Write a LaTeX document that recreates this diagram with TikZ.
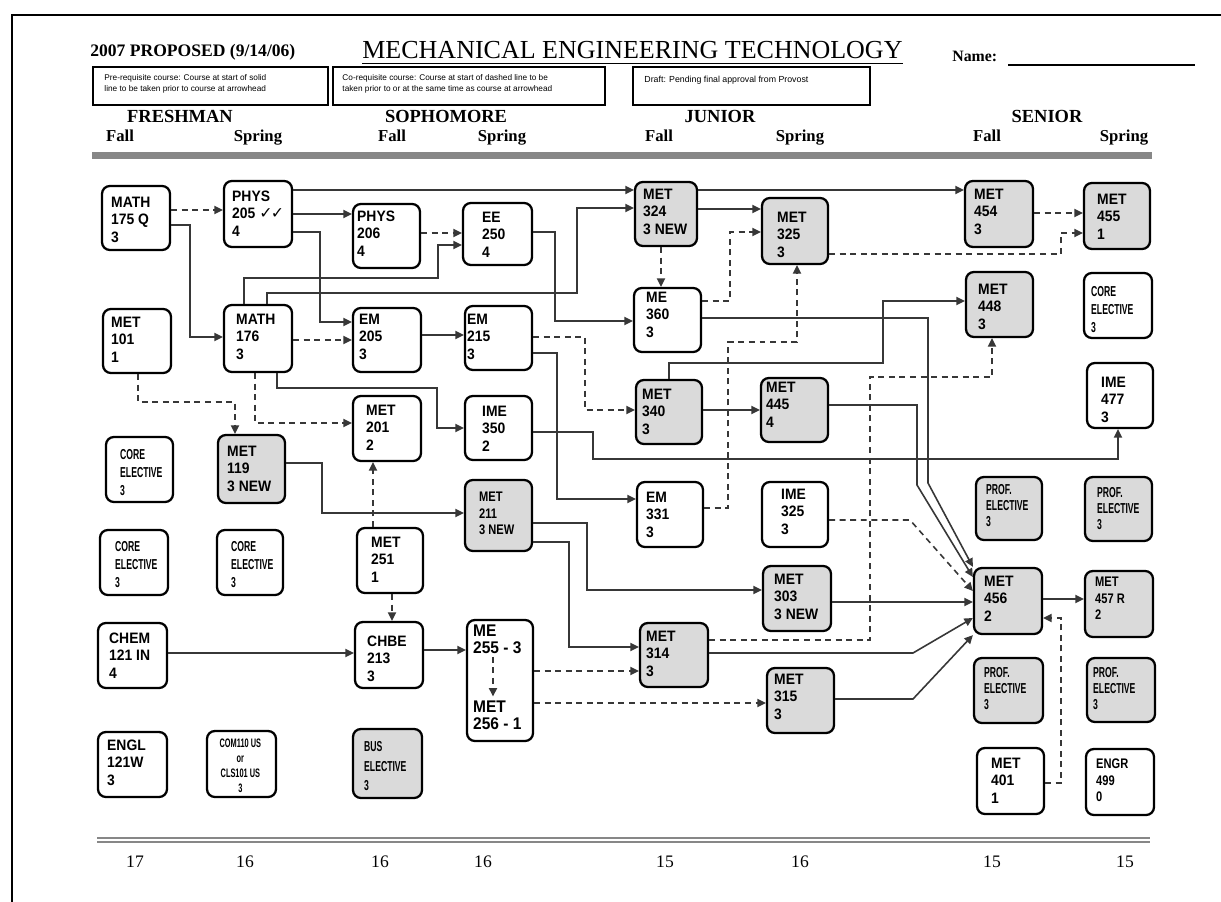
\documentclass[tikz,border=0pt]{standalone}
\usepackage{fontspec}
\setmainfont{Liberation Serif}
\newfontfamily\boxfont[FakeStretch=0.92]{Liberation Sans}
\newfontfamily\narrowfont[FakeStretch=0.6]{Liberation Sans}
\newfontfamily\midfont[FakeStretch=0.8]{Liberation Sans}
\newfontfamily\symfont{DejaVu Sans}
\newfontfamily\legfont{Liberation Sans}
\usetikzlibrary{arrows.meta,fit,calc}
\definecolor{boxgray}{RGB}{218,218,218}
\definecolor{linec}{RGB}{55,55,55}
\definecolor{bargray}{RGB}{135,135,135}
\newcommand\crs[7]{%
  \node[#4, fit={(#2) (#3)}] (#1) {};
  \node[#5] (#1t) at ([shift={(#6)}]#1.north west) {#7};
}
\begin{document}
\begin{tikzpicture}[x=0.02cm,y=-0.02cm,
  wbox/.style={draw=black, line width=1.3pt, rounded corners=4.5pt, inner sep=0pt, fill=white},
  gbox/.style={wbox, fill=boxgray},
  txt/.style={anchor=north west, inner sep=0pt, align=left, font=\boxfont\bfseries\fontsize{8.6}{9.8}\selectfont},
  ntxt/.style={anchor=north west, inner sep=0pt, align=left, font=\narrowfont\bfseries\fontsize{8.2}{10.2}\selectfont},
  ptxt/.style={anchor=north west, inner sep=0pt, align=left, font=\narrowfont\bfseries\fontsize{8.2}{9.1}\selectfont},
  btxt/.style={anchor=north west, inner sep=0pt, align=left, font=\narrowfont\bfseries\fontsize{8.2}{11.3}\selectfont},
  mtxt/.style={anchor=north west, inner sep=0pt, align=left, font=\midfont\bfseries\fontsize{7.9}{9.3}\selectfont},
  ctxt/.style={anchor=north, inner sep=0pt, align=center, font=\narrowfont\bfseries\fontsize{7}{8.5}\selectfont},
  pre/.style={draw=linec, line width=0.9pt, -{Triangle[length=4.8pt,width=4.6pt]}},
  co/.style={pre, dash pattern=on 3.4pt off 2.6pt},
  leg/.style={draw=black, line width=1pt, inner sep=0pt},
  legtxt/.style={anchor=north west, inner sep=0pt, align=left, font=\legfont\fontsize{4.7}{6.2}\selectfont},
  yr/.style={anchor=base, inner sep=0pt, font=\bfseries\fontsize{10.5}{12}\selectfont},
  sem/.style={anchor=base, inner sep=0pt, font=\bfseries\fontsize{9.5}{11}\selectfont},
  num/.style={anchor=base, inner sep=0pt, font=\fontsize{10}{12}\selectfont}
]
\useasboundingbox (0,0) rectangle (1221,902);
\fill[white] (0,0) rectangle (1221,902);
\draw[line width=0.6pt] (12,902) -- (12,15) -- (1221,15);

% header
\node[anchor=base west, inner sep=0pt, font=\bfseries\fontsize{10}{12}\selectfont] (prop) at (90,57) {2007 PROPOSED (9/14/06)};
\node[anchor=base west, inner sep=0pt, font=\fontsize{14.8}{16}\selectfont] (title) at (362,59) {MECHANICAL ENGINEERING TECHNOLOGY};
\draw[line width=0.8pt] ([yshift=-2.4pt]title.base west) -- ([yshift=-2.4pt]title.base east);
\node[anchor=base west, inner sep=0pt, font=\bfseries\fontsize{9}{11}\selectfont] (name) at (952,62) {Name:};
\draw[line width=0.8pt] (1008,65) -- (1195,65);

\node[leg, fit={(93,67) (328,105)}] (leg1) {};
\node[legtxt] (leg1t) at ([shift={(12,8)}]leg1.north west) {Pre-requisite course: Course at start of solid\\line to be taken prior to course at arrowhead};
\node[leg, fit={(333,67) (605,105)}] (leg2) {};
\node[legtxt] (leg2t) at ([shift={(10,8)}]leg2.north west) {Co-requisite course: Course at start of dashed line to be\\taken prior to or at the same time as course at arrowhead};
\node[leg, fit={(633,67) (870,105)}] (leg3) {};
\node[legtxt, font=\legfont\fontsize{5}{6}\selectfont] (leg3t) at ([shift={(12,10)}]leg3.north west) {Draft: Pending final approval from Provost};

\node[yr] (fr) at (180,123) {FRESHMAN};
\node[yr] (so) at (446,123) {SOPHOMORE};
\node[yr] (jr) at (720,123) {JUNIOR};
\node[yr] (sr) at (1047,123) {SENIOR};
\node[sem] (s1) at (120,142) {Fall};
\node[sem] (s2) at (258,142) {Spring};
\node[sem] (s3) at (392,142) {Fall};
\node[sem] (s4) at (502,142) {Spring};
\node[sem] (s5) at (659,142) {Fall};
\node[sem] (s6) at (800,142) {Spring};
\node[sem] (s7) at (987,142) {Fall};
\node[sem] (s8) at (1124,142) {Spring};
\fill[bargray] (92,152) rectangle (1152,159);

% courses
\crs{m175}{102,186}{170,250}{wbox}{txt}{10,12}{MATH\\175 Q\\3}
\crs{p205}{224,181}{292,247}{wbox}{txt}{9,11}{PHYS\\205 {\symfont\bfseries\fontsize{9}{9}\selectfont ✓\kern-1pt✓}\\4}
\crs{p206}{353,204}{420,268}{wbox}{txt}{5,8}{PHYS\\206\\4}
\crs{ee250}{463,203}{532,265}{wbox}{txt}{20,10}{EE\\250\\4}
\crs{m324}{635,182}{697,246}{gbox}{txt}{9,8}{MET\\324\\3 NEW}
\crs{m325}{762,198}{828,264}{gbox}{txt}{16,15}{MET\\325\\3}
\crs{m454}{965,181}{1033,247}{gbox}{txt}{10,9}{MET\\454\\3}
\crs{m455}{1084,183}{1150,249}{gbox}{txt}{14,12}{MET\\455\\1}
\crs{m101}{103,309}{171,373}{wbox}{txt}{9,9}{MET\\101\\1}
\crs{m176}{224,305}{292,372}{wbox}{txt}{13,10}{MATH\\176\\3}
\crs{em205}{353,308}{421,372}{wbox}{txt}{7,7}{EM\\205\\3}
\crs{em215}{465,306}{532,370}{wbox}{txt}{3,9}{EM\\215\\3}
\crs{me360}{634,288}{701,352}{wbox}{txt}{13,5}{ME\\360\\3}
\crs{m448}{966,272}{1033,337}{gbox}{txt}{13,13}{MET\\448\\3}
\crs{ce4}{1084,273}{1152,338}{wbox}{ntxt}{8,14}{CORE\\ELECTIVE\\3}
\crs{m201}{353,396}{421,461}{wbox}{txt}{14,10}{MET\\201\\2}
\crs{ime350}{465,396}{532,460}{wbox}{txt}{18,11}{IME\\350\\2}
\crs{m340}{636,380}{702,444}{gbox}{txt}{7,10}{MET\\340\\3}
\crs{m445}{761,378}{828,442}{gbox}{txt}{6,5}{MET\\445\\4}
\crs{ime477}{1087,363}{1153,428}{wbox}{txt}{15,15}{IME\\477\\3}
\crs{ce1}{106,437}{173,502}{wbox}{ntxt}{15,13}{CORE\\ELECTIVE\\3}
\crs{m119}{218,435}{285,503}{gbox}{txt}{10,12}{MET\\119\\3 NEW}
\crs{m211}{465,480}{532,551}{gbox}{mtxt}{15,13}{MET\\211\\3 NEW}
\crs{em331}{637,482}{703,547}{wbox}{txt}{10,11}{EM\\331\\3}
\crs{ime325}{762,482}{828,547}{wbox}{txt}{20,8}{IME\\325\\3}
\crs{pe1}{976,477}{1042,540}{gbox}{ptxt}{11,8}{PROF.\\ELECTIVE\\3}
\crs{pe2}{1085,477}{1152,541}{gbox}{ptxt}{13,11}{PROF.\\ELECTIVE\\3}
\crs{ce2}{100,530}{168,595}{wbox}{ntxt}{16,12}{CORE\\ELECTIVE\\3}
\crs{ce3}{217,530}{283,595}{wbox}{ntxt}{15,12}{CORE\\ELECTIVE\\3}
\crs{m251}{357,528}{423,593}{wbox}{txt}{15,10}{MET\\251\\1}
\crs{m303}{763,566}{831,631}{gbox}{txt}{12,9}{MET\\303\\3 NEW}
\crs{m456}{974,568}{1042,634}{gbox}{txt}{11,9}{MET\\456\\2}
\crs{m457}{1085,571}{1153,637}{gbox}{mtxt}{11,7}{MET\\457 R\\2}
\crs{chem}{98,623}{167,688}{wbox}{txt}{12,11}{CHEM\\121 IN\\4}
\crs{chbe}{355,622}{423,688}{wbox}{txt}{13,15}{CHBE\\213\\3}
\node[wbox, fit={(467,620) (533,741)}] (me255) {};
\node[txt, font=\boxfont\bfseries\fontsize{9.6}{9.6}\selectfont] (me255t) at ([shift={(7,6)}]me255.north west) {ME\\255 - 3};
\node[txt, font=\boxfont\bfseries\fontsize{9.6}{9.6}\selectfont] (met256t) at ([shift={(7,82)}]me255.north west) {MET\\256 - 1};
\crs{m314}{640,623}{708,687}{gbox}{txt}{7,9}{MET\\314\\3}
\crs{m315}{767,668}{834,733}{gbox}{txt}{8,7}{MET\\315\\3}
\crs{pe3}{974,658}{1043,723}{gbox}{ptxt}{11,10}{PROF.\\ELECTIVE\\3}
\crs{pe4}{1087,658}{1155,722}{gbox}{ptxt}{7,10}{PROF.\\ELECTIVE\\3}
\crs{engl}{98,732}{167,797}{wbox}{txt}{10,9}{ENGL\\121W\\3}
\node[wbox, fit={(207,731) (276,797)}] (com) {};
\node[ctxt] (comt) at ([shift={(34.5,9)}]com.north west) {COM110 US\\or\\CLS101 US\\3};
\crs{bus}{353,729}{422,798}{gbox}{btxt}{12,13}{BUS\\ELECTIVE\\3}
\crs{m401}{977,748}{1044,814}{wbox}{txt}{15,11}{MET\\401\\1}
\crs{engr}{1086,749}{1154,815}{wbox}{mtxt}{11,11}{ENGR\\499\\0}

% connectors
\draw[co] (m175.east |- 0,210) -- (p205.west |- 0,210);
\draw[pre] (m175.east |- 0,225) -- (190,225) -- (190,337) -- (m176.west |- 0,337);
\draw[pre] (p205.east |- 0,190) -- (m324.west |- 0,190);
\draw[pre] (p205.east |- 0,214) -- (p206.west |- 0,214);
\draw[pre] (p205.east |- 0,232) -- (320,232) -- (320,322) -- (em205.west |- 0,322);
\draw[co] (p206.east |- 0,233) -- (ee250.west |- 0,233);
\draw[pre] (244,0 |- m176.north) -- (244,278) -- (438,278) -- (438,245) -- (ee250.west |- 0,245);
\draw[pre] (267,0 |- m176.north) -- (267,293) -- (577,293) -- (577,208) -- (m324.west |- 0,208);
\draw[co] (m176.east |- 0,340) -- (em205.west |- 0,340);
\draw[co] (255,0 |- m176.south) -- (255,423) -- (m201.west |- 0,423);
\draw[pre] (277,0 |- m176.south) -- (277,388) -- (437,388) -- (437,428) -- (ime350.west |- 0,428);
\draw[co] (138,0 |- m101.south) -- (138,402) -- (235,402) -- (235,0 |- m119.north);
\draw[pre] (em205.east |- 0,335) -- (em215.west |- 0,335);
\draw[pre] (ee250.east |- 0,232) -- (555,232) -- (555,321) -- (me360.west |- 0,321);
\draw[pre] (m324.east |- 0,209) -- (m325.west |- 0,209);
\draw[co] (661,0 |- m324.south) -- (661,0 |- me360.north);
\draw[co] (me360.east |- 0,301) -- (730,301) -- (730,232) -- (m325.west |- 0,232);
\draw[pre] (m324.east |- 0,190) -- (m454.west |- 0,190);
\draw[co] (m325.east |- 0,254) -- (1061,254) -- (1061,233) -- (m455.west |- 0,233);
\draw[co] (m454.east |- 0,213) -- (m455.west |- 0,213);
\draw[pre] (me360.east |- 0,318) -- (928,318) -- (928,483) -- (m456.north west);
\draw[pre] (669,0 |- m340.north) -- (669,363) -- (883,363) -- (883,301) -- (m448.west |- 0,301);
\draw[co] (em215.east |- 0,337) -- (585,337) -- (585,410) -- (m340.west |- 0,410);
\draw[pre] (em215.east |- 0,353) -- (557,353) -- (557,499) -- (em331.west |- 0,499);
\draw[pre] (m340.east |- 0,410) -- (m445.west |- 0,410);
\draw[co] (em331.east |- 0,508) -- (728,508) -- (728,342) -- (797,342) -- (797,0 |- m325.south);
\draw[co] (m314.east |- 0,640) -- (870,640) -- (870,377) -- (992,377) -- (992,0 |- m448.south);
\draw[pre] (ime350.east |- 0,432) -- (593,432) -- (593,459) -- (1118,459) -- (1118,0 |- ime477.south);
\draw[pre] (m119.east |- 0,463) -- (322,463) -- (322,513) -- (m211.west |- 0,513);
\draw[co] (373,0 |- m251.north) -- (373,0 |- m201.south);
\draw[co] (392,0 |- m251.south) -- (392,0 |- chbe.north);
\draw[pre] (chem.east |- 0,653) -- (chbe.west |- 0,653);
\draw[pre] (chbe.east |- 0,650) -- (me255.west |- 0,650);
\draw[pre] (m211.east |- 0,523) -- (587,523) -- (587,590) -- (m303.west |- 0,590);
\draw[pre] (m211.east |- 0,542) -- (569,542) -- (569,647) -- (m314.west |- 0,647);
\draw[co] (me255.east |- 0,671) -- (m314.west |- 0,671);
\draw[co] ([yshift=-1.5pt]493,0 |- me255t.south) -- ([yshift=2.5pt]493,0 |- met256t.north);
\draw[co] (me255.east |- 0,703) -- (m315.west |- 0,703);
\draw[co] (ime325.east |- 0,520) -- (910,520) -- (m456.west |- 0,591);
\draw[pre] (m303.east |- 0,602) -- (m456.west |- 0,602);
\draw[pre] (m314.east |- 0,653) -- (913,653) -- (m456.west |- 0,618);
\draw[pre] (m315.east |- 0,699) -- (913,699) -- (m456.south west);
\draw[pre] (m456.east |- 0,599) -- (m457.west |- 0,599);
\draw[co] (m401.east |- 0,783) -- (1061,783) -- (1061,618) -- (m456.east |- 0,618);
\draw[pre] (m445.east |- 0,405) -- (917,405) -- (917,485) -- (m456.west |- 0,577);

% bottom
\draw[bargray, line width=1pt] (97,838) -- (1150,838);
\draw[bargray, line width=1pt] (97,842) -- (1150,842);
\node[num] (n1) at (135,867) {17};
\node[num] (n2) at (245,867) {16};
\node[num] (n3) at (380,867) {16};
\node[num] (n4) at (483,867) {16};
\node[num] (n5) at (665,867) {15};
\node[num] (n6) at (800,867) {16};
\node[num] (n7) at (992,867) {15};
\node[num] (n8) at (1125,867) {15};
\end{tikzpicture}
\end{document}
